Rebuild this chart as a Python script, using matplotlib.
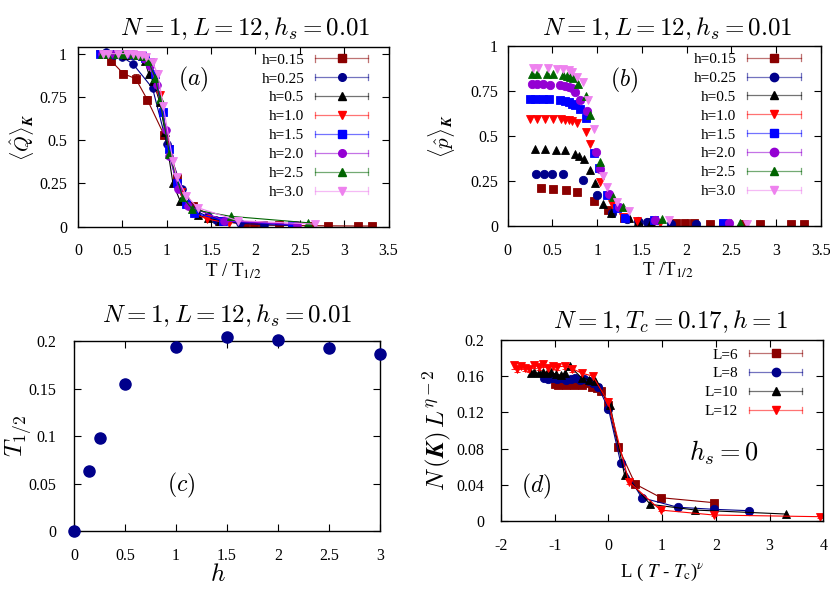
import matplotlib
matplotlib.use("Agg")
import matplotlib.pyplot as plt
from matplotlib.lines import Line2D
from matplotlib.legend_handler import HandlerBase
from matplotlib.ticker import FormatStrFormatter, MultipleLocator
from matplotlib.mathtext import MathTextParser

plt.rcParams["font.family"] = ["Liberation Serif", "DejaVu Serif"]
plt.rcParams["mathtext.fontset"] = "cm"
plt.rcParams["axes.unicode_minus"] = False

# ---------- data: panels (a) and (b), T / T_1/2 for each h ----------
h_labels = ["h=0.15", "h=0.25", "h=0.5", "h=1.0", "h=1.5", "h=2.0", "h=2.5", "h=3.0"]

x_h015 = [0.37, 0.51, 0.65, 0.78, 0.97, 1.12, 1.30, 1.59, 1.88, 1.98, 2.08, 2.26, 2.41, 2.64, 2.82, 3.16, 3.31]
q_h015 = [0.96, 0.885, 0.855, 0.735, 0.53, 0.28, 0.12, 0.035, 0.012, 0.010, 0.009, 0.008, 0.007, 0.006, 0.005, 0.004, 0.004]
qerr_h015 = [0.025, 0.02, 0.025, 0.02, 0.01, 0.005, 0.005, 0, 0, 0, 0, 0, 0, 0, 0, 0, 0]
p_h015 = [0.21, 0.207, 0.20, 0.19, 0.141, 0.089, 0.045, 0.024, 0.015, 0.015, 0.014, 0.012, 0.011, 0.011, 0.010, 0.009, 0.009]

x_h025 = [0.32, 0.41, 0.50, 0.62, 0.84, 1.00, 1.17, 1.33, 1.46, 1.56, 1.82, 2.10, 2.42]
q_h025 = [1.01, 0.99, 0.98, 0.94, 0.80, 0.48, 0.22, 0.09, 0.06, 0.04, 0.02, 0.012, 0.008]
p_h025 = [0.289, 0.289, 0.289, 0.287, 0.256, 0.174, 0.075, 0.037, 0.026, 0.022, 0.013, 0.010, 0.008]

x_h05 = [0.31, 0.42, 0.54, 0.64, 0.75, 0.80, 0.85, 0.92, 0.98, 1.07, 1.15, 1.35, 1.46, 1.60]
q_h05 = [1.0, 1.0, 0.995, 0.99, 0.96, 0.88, 0.84, 0.72, 0.55, 0.25, 0.15, 0.07, 0.048, 0.035]
p_h05 = [0.43, 0.43, 0.425, 0.42, 0.40, 0.39, 0.37, 0.31, 0.237, 0.12, 0.074, 0.043, 0.030, 0.025]

x_h10 = [0.25, 0.33, 0.42, 0.51, 0.60, 0.64, 0.68, 0.72, 0.78, 0.87, 0.92, 1.03, 1.16, 1.29, 1.45, 1.70]
q_h10 = [1.0, 1.0, 1.0, 1.0, 0.995, 0.99, 0.985, 0.975, 0.95, 0.88, 0.76, 0.45, 0.20, 0.08, 0.045, 0.02]
p_h10 = [0.594, 0.594, 0.594, 0.593, 0.592, 0.59, 0.588, 0.585, 0.57, 0.52, 0.454, 0.246, 0.12, 0.052, 0.030, 0.015]

x_h15 = [0.25, 0.31, 0.40, 0.46, 0.59, 0.64, 0.68, 0.72, 0.75, 0.81, 0.87, 0.96, 1.02, 1.11, 1.22, 1.31, 1.63, 2.41]
q_h15 = [1.0, 1.0, 1.0, 1.0, 0.998, 0.995, 0.99, 0.985, 0.975, 0.95, 0.88, 0.66, 0.45, 0.25, 0.13, 0.08, 0.035, 0.01]
p_h15 = [0.705, 0.705, 0.705, 0.704, 0.70, 0.695, 0.69, 0.68, 0.672, 0.648, 0.60, 0.404, 0.32, 0.172, 0.098, 0.043, 0.033, 0.015]

x_h20 = [0.27, 0.33, 0.40, 0.47, 0.59, 0.64, 0.68, 0.72, 0.75, 0.81, 0.885, 0.99, 1.03, 1.13, 1.24, 1.65, 2.47]
q_h20 = [1.0, 1.0, 1.0, 1.0, 0.998, 0.995, 0.99, 0.985, 0.97, 0.93, 0.82, 0.56, 0.41, 0.22, 0.12, 0.035, 0.012]
p_h20 = [0.787, 0.787, 0.787, 0.786, 0.783, 0.78, 0.773, 0.765, 0.746, 0.70, 0.64, 0.41, 0.315, 0.178, 0.104, 0.033, 0.015]

x_h25 = [0.27, 0.33, 0.44, 0.51, 0.62, 0.66, 0.70, 0.73, 0.79, 0.87, 0.92, 1.03, 1.18, 1.29, 1.72, 2.59]
q_h25 = [1.0, 1.0, 1.0, 1.0, 0.998, 0.995, 0.99, 0.985, 0.96, 0.86, 0.74, 0.42, 0.17, 0.10, 0.06, 0.023]
p_h25 = [0.845, 0.845, 0.845, 0.845, 0.84, 0.835, 0.83, 0.82, 0.79, 0.72, 0.617, 0.354, 0.163, 0.104, 0.040, 0.018]

x_h30 = [0.28, 0.34, 0.45, 0.55, 0.62, 0.68, 0.72, 0.77, 0.84, 0.90, 0.96, 1.07, 1.11, 1.22, 1.35, 1.80, 2.67]
q_h30 = [1.0, 1.0, 1.0, 1.0, 0.998, 0.995, 0.99, 0.98, 0.95, 0.88, 0.70, 0.38, 0.29, 0.18, 0.11, 0.035, 0.015]
p_h30 = [0.876, 0.876, 0.876, 0.875, 0.872, 0.865, 0.855, 0.83, 0.80, 0.70, 0.537, 0.278, 0.218, 0.135, 0.085, 0.033, 0.011]

# ---------- data: panel (c) ----------
h_vals = [0, 0.15, 0.25, 0.5, 1.0, 1.5, 2.0, 2.5, 3.0]
t_half = [0, 0.063, 0.098, 0.155, 0.194, 0.204, 0.201, 0.193, 0.187]

# ---------- data: panel (d), scaling collapse ----------
L_labels = ["L=6", "L=8", "L=10", "L=12"]
x_L6 = [-1.00, -0.93, -0.86, -0.79, -0.72, -0.65, -0.58, -0.50, -0.38, -0.30, -0.22, -0.13, 0.0, 0.18, 0.50, 0.98, 1.97]
y_L6 = [0.151, 0.150, 0.151, 0.150, 0.151, 0.150, 0.151, 0.150, 0.152, 0.148, 0.147, 0.143, 0.128, 0.082, 0.041, 0.026, 0.0205]
x_L8 = [-1.20, -1.12, -1.04, -0.96, -0.87, -0.79, -0.70, -0.62, -0.53, -0.45, -0.36, -0.28, -0.19, 0.0, 0.23, 0.62, 1.29, 1.97, 2.62]
y_L8 = [0.158, 0.157, 0.158, 0.157, 0.158, 0.156, 0.157, 0.158, 0.156, 0.157, 0.154, 0.152, 0.148, 0.124, 0.064, 0.026, 0.0155, 0.0132, 0.0117]
x_L10 = [-1.45, -1.38, -1.30, -1.22, -1.14, -1.06, -0.98, -0.89, -0.81, -0.72, -0.50, -0.36, -0.25, 0.03, 0.30, 0.78, 1.62, 3.31]
y_L10 = [0.163, 0.164, 0.163, 0.165, 0.163, 0.164, 0.162, 0.161, 0.163, 0.171, 0.158, 0.156, 0.155, 0.128, 0.051, 0.0187, 0.0124, 0.008]
x_L12 = [-1.76, -1.70, -1.63, -1.55, -1.47, -1.38, -1.30, -1.22, -1.13, -1.04, -0.96, -0.80, -0.67, -0.49, -0.29, 0.0, 0.38, 0.97, 1.97, 3.94]
y_L12 = [0.172, 0.168, 0.171, 0.169, 0.168, 0.172, 0.170, 0.173, 0.169, 0.171, 0.170, 0.171, 0.168, 0.163, 0.160, 0.131, 0.0436, 0.0124, 0.0069, 0.0051]
yerr_L12 = [0.004, 0.003, 0.003, 0.003, 0.003, 0.003, 0.003, 0.003, 0.003, 0.003, 0.003, 0.003, 0.003, 0.003, 0.003, 0.005, 0.002, 0.001, 0.001, 0.001]

# gnuplot-like colours and point types
h_colors = ["#8b0000", "#00008b", "#000000", "#ff0000", "#0000ff", "#9400d3", "#006400", "#ee82ee"]
h_markers = ["s", "o", "^", "v", "s", "o", "^", "v"]
L_colors = ["#8b0000", "#00008b", "#000000", "#ff0000"]
L_markers = ["s", "o", "^", "v"]

# bold italic K if this mathtext knows \boldsymbol, else plain bold
try:
    MathTextParser("agg").parse(r"$\boldsymbol{K}$", 100)
    KB = r"\boldsymbol{K}"
except Exception:
    KB = r"\mathbf{K}"


class KeyHandler(HandlerBase):
    """gnuplot style key sample: line with end caps and the point in the middle"""
    def create_artists(self, legend, orig_handle, xdescent, ydescent, width, height, fontsize, trans):
        y = 0.5 * height - ydescent
        x0, x1 = -xdescent, width - xdescent
        c = orig_handle.get_color()
        cap = 0.3 * height
        arts = [Line2D([x0, x1], [y, y], color=c, lw=0.9, alpha=0.55),
                Line2D([x0, x0], [y - cap, y + cap], color=c, lw=0.9, alpha=0.55),
                Line2D([x1, x1], [y - cap, y + cap], color=c, lw=0.9, alpha=0.55),
                Line2D([0.5 * (x0 + x1)], [y], marker=orig_handle.get_marker(),
                       ms=orig_handle.get_markersize(), color=c, ls="none")]
        for a in arts:
            a.set_transform(trans)
        return arts


def style_axes(ax, xpad, ypad):
    ax.tick_params(direction="in", top=True, right=True, length=5, width=0.8, labelsize=11.5)
    ax.tick_params(axis="x", pad=xpad)
    ax.tick_params(axis="y", pad=ypad)
    for s in ax.spines.values():
        s.set_linewidth(1.0)
    ax.xaxis.set_major_formatter(FormatStrFormatter("%g"))
    ax.yaxis.set_major_formatter(FormatStrFormatter("%g"))


def add_key(ax, labels, anchor):
    ax.legend(ax.key_handles, labels, loc="upper right", bbox_to_anchor=anchor, frameon=False,
              markerfirst=False, handlelength=3.5, handletextpad=0.7, labelspacing=0.34,
              borderpad=0, borderaxespad=0, fontsize=11, handler_map={Line2D: KeyHandler()})


fig = plt.figure(figsize=(8.3, 5.96), dpi=100)
ax_a = fig.add_axes([0.0940, 0.6196, 0.3742, 0.3020])
ax_b = fig.add_axes([0.6116, 0.6208, 0.3776, 0.3020])
ax_c = fig.add_axes([0.0892, 0.1086, 0.3687, 0.3188])
ax_d = fig.add_axes([0.6036, 0.1253, 0.3883, 0.3047])

xs = [x_h015, x_h025, x_h05, x_h10, x_h15, x_h20, x_h25, x_h30]
qs = [q_h015, q_h025, q_h05, q_h10, q_h15, q_h20, q_h25, q_h30]
ps = [p_h015, p_h025, p_h05, p_h10, p_h15, p_h20, p_h25, p_h30]

title = r"$N=1, L=12, h_s=0.01$"

# ---------- (a) ----------
ax_a.key_handles = []
for i in range(len(h_labels)):
    err = qerr_h015 if i == 0 else None
    cont = ax_a.errorbar(xs[i], qs[i], yerr=err, fmt="-", marker=h_markers[i], color=h_colors[i],
                         ms=5.5, lw=0.8, elinewidth=0.8, capsize=2.5, mew=0.6)
    ax_a.key_handles.append(cont.lines[0])
ax_a.set_xlim(0, 3.5)
ax_a.set_ylim(0, 1.04)
ax_a.xaxis.set_major_locator(MultipleLocator(0.5))
ax_a.set_yticks([0, 0.25, 0.5, 0.75, 1])
style_axes(ax_a, 12, 8)
ax_a.set_title(title, fontsize=18, pad=8, x=0.54)
ax_a.set_xlabel(r"T / T$_{\mathrm{1/2}}$", fontsize=13.5, math_fontfamily="stix")
ax_a.xaxis.set_label_coords(0.5, -0.19)
ax_a.set_ylabel(r"$\langle\hat{Q}\rangle_{" + KB + "}$", fontsize=14.5)
ax_a.yaxis.set_label_coords(-0.135, 0.5)
ax_a.text(0.37, 0.82, r"$(a)$", transform=ax_a.transAxes, fontsize=17, ha="center", va="center")
add_key(ax_a, h_labels, (0.935, 0.965))

# ---------- (b) ----------
ax_b.key_handles = []
for i in range(len(h_labels)):
    ln, = ax_b.plot(xs[i], ps[i], ls="none", marker=h_markers[i], color=h_colors[i], ms=6, mew=0.6)
    ax_b.key_handles.append(ln)
ax_b.set_xlim(0, 3.5)
ax_b.set_ylim(0, 1)
ax_b.xaxis.set_major_locator(MultipleLocator(0.5))
ax_b.set_yticks([0, 0.25, 0.5, 0.75, 1])
style_axes(ax_b, 12, 7)
ax_b.set_title(title, fontsize=18, pad=8, x=0.51)
ax_b.set_xlabel(r"T /T$_{\mathrm{1/2}}$", fontsize=13.5, math_fontfamily="stix")
ax_b.xaxis.set_label_coords(0.51, -0.19)
ax_b.set_ylabel(r"$\langle\hat{p}\rangle_{" + KB + "}$", fontsize=15)
ax_b.yaxis.set_label_coords(-0.16, 0.5)
ax_b.text(0.37, 0.81, r"$(b)$", transform=ax_b.transAxes, fontsize=17, ha="center", va="center")
add_key(ax_b, h_labels, (0.935, 0.965))

# ---------- (c) ----------
ax_c.plot(h_vals, t_half, ls="none", marker="o", color="#00008b", ms=8, clip_on=False, zorder=3)
ax_c.set_xlim(0, 3)
ax_c.set_ylim(0, 0.2)
ax_c.xaxis.set_major_locator(MultipleLocator(0.5))
ax_c.yaxis.set_major_locator(MultipleLocator(0.05))
style_axes(ax_c, 12, 13)
ax_c.set_title(title, fontsize=18, pad=14)
ax_c.set_xlabel(r"$h$", fontsize=18)
ax_c.xaxis.set_label_coords(0.47, -0.17)
ax_c.set_ylabel(r"$T_{1/2}$", fontsize=18)
ax_c.yaxis.set_label_coords(-0.128, 0.5)
ax_c.text(0.35, 0.24, r"$(c)$", transform=ax_c.transAxes, fontsize=17, ha="center", va="center")

# ---------- (d) ----------
xL = [x_L6, x_L8, x_L10, x_L12]
yL = [y_L6, y_L8, y_L10, y_L12]
ax_d.key_handles = []
for i in range(len(L_labels)):
    err = yerr_L12 if i == 3 else None
    cont = ax_d.errorbar(xL[i], yL[i], yerr=err, fmt="-", marker=L_markers[i], color=L_colors[i],
                         ms=6, lw=0.8, elinewidth=0.8, capsize=2.5, mew=0.6)
    ax_d.key_handles.append(cont.lines[0])
ax_d.set_xlim(-2, 4)
ax_d.set_ylim(0, 0.2)
ax_d.xaxis.set_major_locator(MultipleLocator(1))
ax_d.yaxis.set_major_locator(MultipleLocator(0.04))
style_axes(ax_d, 12, 12)
ax_d.set_title(r"$N=1, T_c=0.17, h=1$", fontsize=18, pad=8, x=0.525)
ax_d.set_xlabel(r"L ( $T$ - $T_{\mathrm{c}}$)$^{\nu}$", fontsize=13.5, math_fontfamily="stix")
ax_d.xaxis.set_label_coords(0.5, -0.22)
ax_d.set_ylabel(r"$N\,(" + KB + r")\,L^{\eta-2}$", fontsize=18)
ax_d.yaxis.set_label_coords(-0.15, 0.5)
ax_d.text(0.11, 0.19, r"$(d)$", transform=ax_d.transAxes, fontsize=17, ha="center", va="center")
ax_d.text(0.69, 0.375, r"$h_s=0$", transform=ax_d.transAxes, fontsize=19, ha="center", va="center")
add_key(ax_d, L_labels, (0.935, 0.955))

fig.savefig("out.png", dpi=100)
